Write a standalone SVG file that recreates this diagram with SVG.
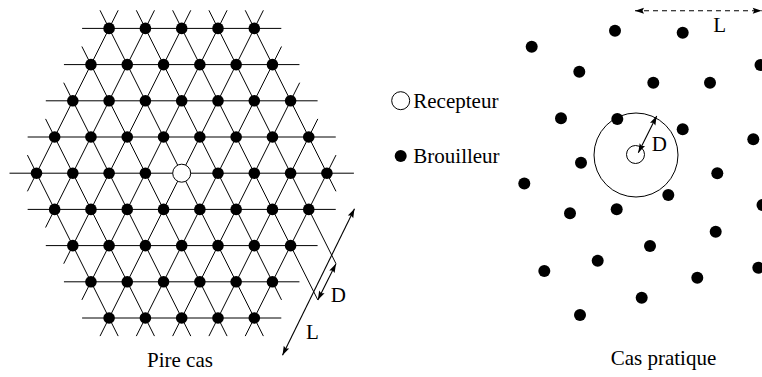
<svg xmlns="http://www.w3.org/2000/svg" xmlns:xlink="http://www.w3.org/1999/xlink" width="762" height="377" viewBox="0 0 762 377">
<style>
.ln{stroke:#000;stroke-width:1;fill:none}
.dot{fill:#000}
.hol{fill:#fff;stroke:#000;stroke-width:1}
.t{font-family:"Liberation Serif","Times New Roman",serif;font-size:21px;fill:#000}
.arr{stroke:#000;stroke-width:1.1;fill:none;marker-start:url(#ah);marker-end:url(#ah)}
.dash{stroke-dasharray:5 4}
</style>
<defs>
<marker id="ah" markerUnits="userSpaceOnUse" markerWidth="10" markerHeight="7" refX="9" refY="3" orient="auto-start-reverse" overflow="visible">
<path d="M0,0 L9,3 L0,6 L1.5,3 z" fill="#000"/>
</marker>
<circle id="dot" r="5.8" class="dot"/>
</defs>
<rect width="762" height="377" fill="#fff"/>

<g id="lattice-lines" class="ln">
<!-- horizontal -->
<line x1="82.1" y1="28.4" x2="281.3" y2="28.4"/>
<line x1="63.95" y1="64.6" x2="299.45" y2="64.6"/>
<line x1="45.8" y1="100.8" x2="317.6" y2="100.8"/>
<line x1="27.65" y1="137" x2="335.75" y2="137"/>
<line x1="9.5" y1="173.2" x2="353.9" y2="173.2"/>
<line x1="27.65" y1="209.4" x2="335.75" y2="209.4"/>
<line x1="45.8" y1="245.6" x2="317.6" y2="245.6"/>
<line x1="63.95" y1="281.8" x2="299.45" y2="281.8"/>
<line x1="82.1" y1="318" x2="281.3" y2="318"/>
<!-- down-right diagonals -->
<line x1="27.425" y1="155.1" x2="118.175" y2="336.1"/>
<line x1="45.575" y1="118.9" x2="154.475" y2="336.1"/>
<line x1="63.725" y1="82.7" x2="190.775" y2="336.1"/>
<line x1="81.875" y1="46.5" x2="227.075" y2="336.1"/>
<line x1="100.025" y1="10.3" x2="263.375" y2="336.1"/>
<line x1="136.325" y1="10.3" x2="281.525" y2="299.9"/>
<line x1="172.625" y1="10.3" x2="317.825" y2="299.9"/>
<line x1="208.925" y1="10.3" x2="335.975" y2="263.7"/>
<line x1="245.225" y1="10.3" x2="335.975" y2="191.3"/>
<!-- down-left diagonals -->
<line x1="118.175" y1="10.3" x2="27.425" y2="191.3"/>
<line x1="154.475" y1="10.3" x2="45.575" y2="227.5"/>
<line x1="190.775" y1="10.3" x2="63.725" y2="263.7"/>
<line x1="227.075" y1="10.3" x2="81.875" y2="299.9"/>
<line x1="263.375" y1="10.3" x2="100.025" y2="336.1"/>
<line x1="281.525" y1="46.5" x2="136.325" y2="336.1"/>
<line x1="299.675" y1="82.7" x2="172.625" y2="336.1"/>
<line x1="317.825" y1="118.9" x2="208.925" y2="336.1"/>
<line x1="335.975" y1="155.1" x2="245.225" y2="336.1"/>
</g>

<g id="lattice-nodes">
<g id="row-4"><use href="#dot" x="109.1" y="28.4"/><use href="#dot" x="145.4" y="28.4"/><use href="#dot" x="181.7" y="28.4"/><use href="#dot" x="218" y="28.4"/><use href="#dot" x="254.3" y="28.4"/></g>
<g id="row-3"><use href="#dot" x="90.95" y="64.6"/><use href="#dot" x="127.25" y="64.6"/><use href="#dot" x="163.55" y="64.6"/><use href="#dot" x="199.85" y="64.6"/><use href="#dot" x="236.15" y="64.6"/><use href="#dot" x="272.45" y="64.6"/></g>
<g id="row-2"><use href="#dot" x="72.8" y="100.8"/><use href="#dot" x="109.1" y="100.8"/><use href="#dot" x="145.4" y="100.8"/><use href="#dot" x="181.7" y="100.8"/><use href="#dot" x="218" y="100.8"/><use href="#dot" x="254.3" y="100.8"/><use href="#dot" x="290.6" y="100.8"/></g>
<g id="row-1"><use href="#dot" x="54.65" y="137"/><use href="#dot" x="90.95" y="137"/><use href="#dot" x="127.25" y="137"/><use href="#dot" x="163.55" y="137"/><use href="#dot" x="199.85" y="137"/><use href="#dot" x="236.15" y="137"/><use href="#dot" x="272.45" y="137"/><use href="#dot" x="308.75" y="137"/></g>
<g id="row0"><use href="#dot" x="36.5" y="173.2"/><use href="#dot" x="72.8" y="173.2"/><use href="#dot" x="109.1" y="173.2"/><use href="#dot" x="145.4" y="173.2"/><use href="#dot" x="218" y="173.2"/><use href="#dot" x="254.3" y="173.2"/><use href="#dot" x="290.6" y="173.2"/><use href="#dot" x="326.9" y="173.2"/></g>
<g id="row1"><use href="#dot" x="54.65" y="209.4"/><use href="#dot" x="90.95" y="209.4"/><use href="#dot" x="127.25" y="209.4"/><use href="#dot" x="163.55" y="209.4"/><use href="#dot" x="199.85" y="209.4"/><use href="#dot" x="236.15" y="209.4"/><use href="#dot" x="272.45" y="209.4"/><use href="#dot" x="308.75" y="209.4"/></g>
<g id="row2"><use href="#dot" x="72.8" y="245.6"/><use href="#dot" x="109.1" y="245.6"/><use href="#dot" x="145.4" y="245.6"/><use href="#dot" x="181.7" y="245.6"/><use href="#dot" x="218" y="245.6"/><use href="#dot" x="254.3" y="245.6"/><use href="#dot" x="290.6" y="245.6"/></g>
<g id="row3"><use href="#dot" x="90.95" y="281.8"/><use href="#dot" x="127.25" y="281.8"/><use href="#dot" x="163.55" y="281.8"/><use href="#dot" x="199.85" y="281.8"/><use href="#dot" x="236.15" y="281.8"/><use href="#dot" x="272.45" y="281.8"/></g>
<g id="row4"><use href="#dot" x="109.1" y="318"/><use href="#dot" x="145.4" y="318"/><use href="#dot" x="181.7" y="318"/><use href="#dot" x="218" y="318"/><use href="#dot" x="254.3" y="318"/></g>
<g id="receptor-left"><circle class="hol" cx="181.7" cy="173.2" r="9"/></g>
</g>

<g id="dimensions-left">
<line class="arr" x1="354.5" y1="208.8" x2="282.5" y2="355.2"/>
<line class="arr" x1="335.975" y1="263.7" x2="317.825" y2="299.9"/>
<text class="t" x="330.7" y="301.7">D</text>
<text class="t" x="306" y="339">L</text>
</g>
<text id="label-pire" class="t" x="180" y="366.7" text-anchor="middle">Pire cas</text>

<g id="legend">
<g id="legend-recepteur"><circle class="hol" cx="400.7" cy="100.7" r="9"/><text class="t" x="413.3" y="108">Recepteur</text></g>
<g id="legend-brouilleur"><circle class="dot" cx="400.7" cy="156" r="6"/><text class="t" x="413.3" y="163">Brouilleur</text></g>
</g>

<g id="practical-dots" class="dot">
<circle cx="615" cy="30.7" r="6"/>
<circle cx="682.7" cy="32.7" r="6"/>
<circle cx="531.7" cy="46.7" r="6"/>
<circle cx="579.3" cy="71.7" r="6"/>
<circle cx="653.3" cy="82.7" r="6"/>
<circle cx="710" cy="82.7" r="6"/>
<circle cx="760.5" cy="65" r="6"/>
<circle cx="561" cy="118.3" r="6"/>
<circle cx="617.3" cy="119" r="6"/>
<circle cx="682.7" cy="129.3" r="6"/>
<circle cx="753.3" cy="139.3" r="6"/>
<circle cx="581" cy="162.7" r="6"/>
<circle cx="717.3" cy="173.3" r="6"/>
<circle cx="524.3" cy="183.5" r="6"/>
<circle cx="668.3" cy="195" r="6"/>
<circle cx="570" cy="213.3" r="6"/>
<circle cx="616.7" cy="209.3" r="6"/>
<circle cx="762.5" cy="205" r="6"/>
<circle cx="715.7" cy="231.7" r="6"/>
<circle cx="650" cy="246" r="6"/>
<circle cx="597.7" cy="260.7" r="6"/>
<circle cx="544.3" cy="271" r="6"/>
<circle cx="758.3" cy="267.7" r="6"/>
<circle cx="697.3" cy="277.7" r="6"/>
<circle cx="641.7" cy="297.7" r="6"/>
<circle cx="580" cy="315" r="6"/>
</g>

<g id="practical-receptor">
<circle class="ln" cx="636" cy="155" r="42"/>
<circle class="hol" cx="635.5" cy="154.5" r="9"/>
</g>
<g id="dimensions-right">
<line class="arr" x1="638.3" y1="152.7" x2="656.7" y2="116"/>
<text class="t" x="651.7" y="151">D</text>
<line class="arr dash" x1="635" y1="10.7" x2="761.7" y2="10.7"/>
<text class="t" x="713.3" y="31.7">L</text>
</g>
<text id="label-cas" class="t" x="610.7" y="365">Cas pratique</text>
</svg>
